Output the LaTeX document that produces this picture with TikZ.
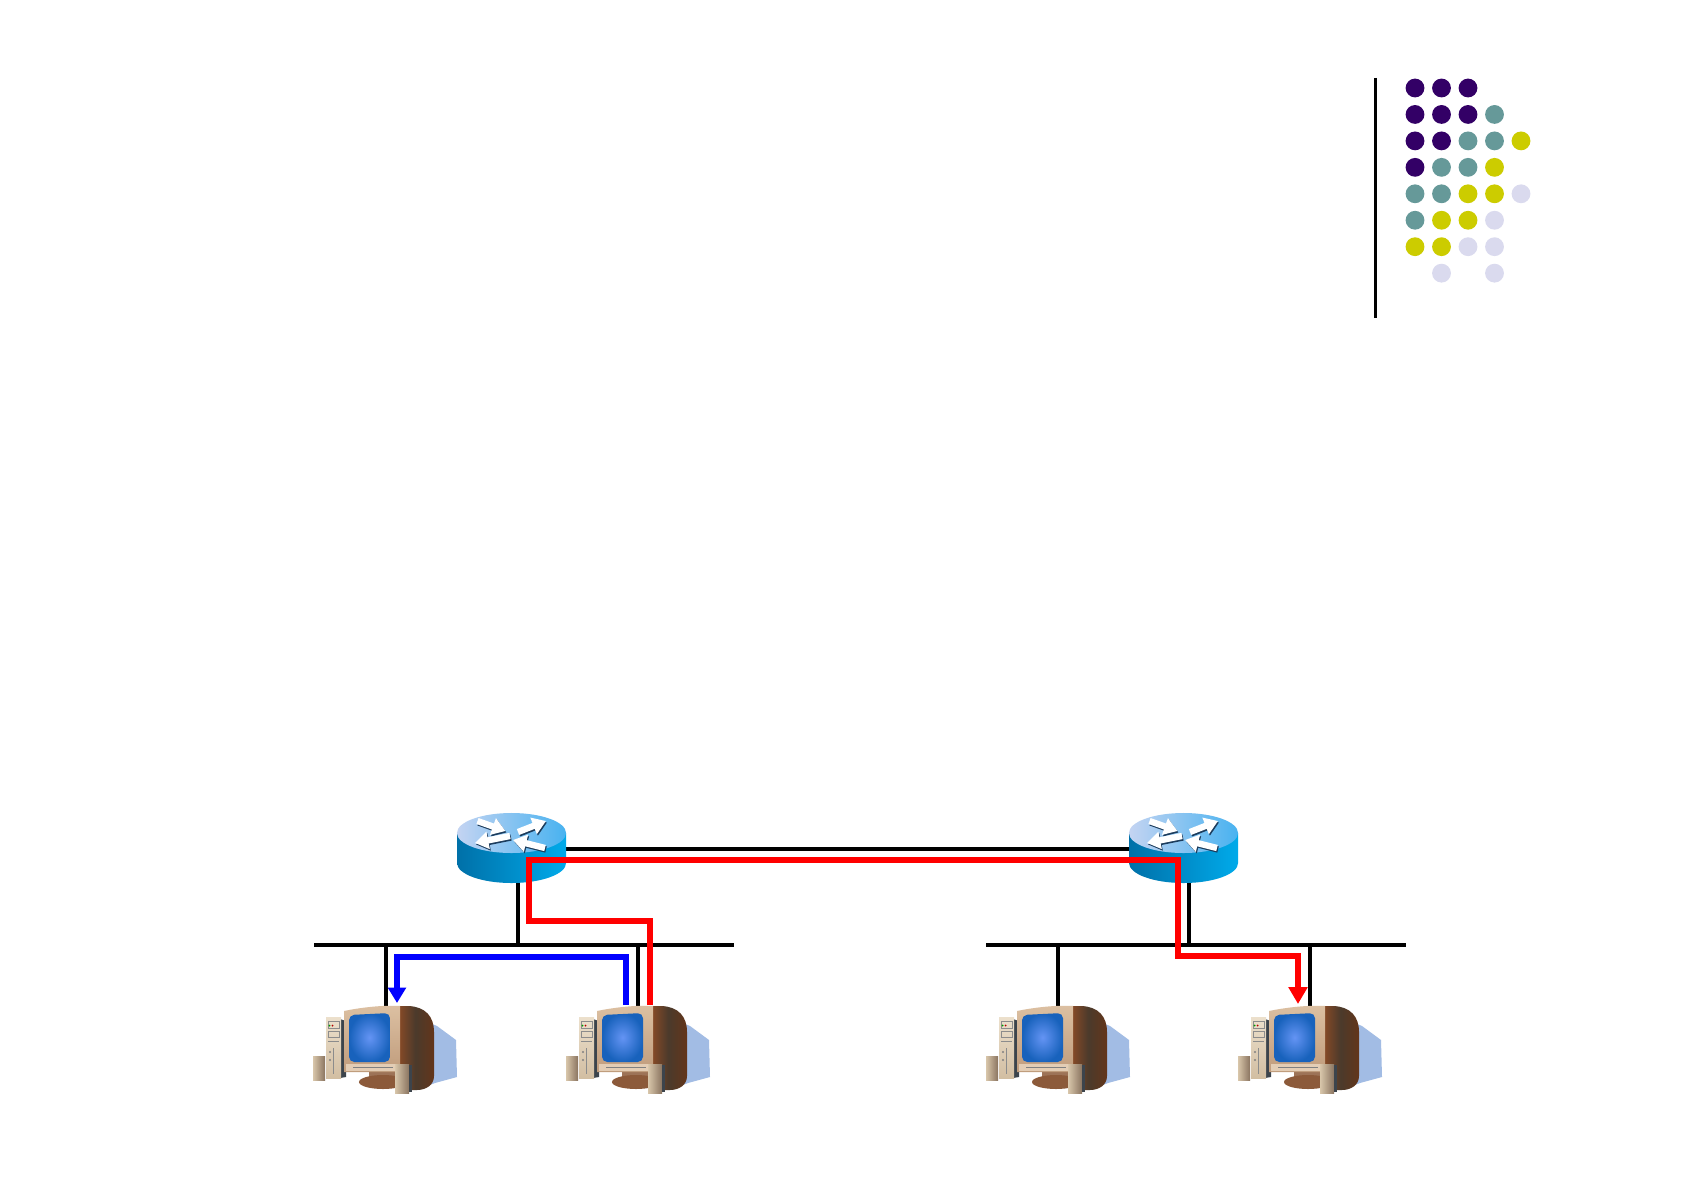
\documentclass[tikz,border=0pt]{standalone}
\usetikzlibrary{arrows.meta}
\definecolor{dpurple}{HTML}{330066}
\definecolor{dteal}{HTML}{669999}
\definecolor{dyellow}{HTML}{CCCC00}
\definecolor{dlav}{HTML}{DADAEE}
\definecolor{rside1}{HTML}{0070A8}
\definecolor{rside2}{HTML}{00AAEA}
\definecolor{rtop1}{HTML}{C4D4F2}
\definecolor{rtop2}{HTML}{48B2F0}
\definecolor{rshad}{HTML}{1C3C5C}
\definecolor{pcshadow}{HTML}{A2BCE4}
\definecolor{pcdark}{HTML}{4B3A2B}
\definecolor{pcbrown}{HTML}{8E4C26}
\definecolor{pcstand}{HTML}{8C5A3A}
\definecolor{pcgrey}{HTML}{3C444C}
\definecolor{beige1}{HTML}{ECE0CC}
\definecolor{beige2}{HTML}{D2BEA2}
\definecolor{frame1}{HTML}{DCC0A2}
\definecolor{frame2}{HTML}{C09C7C}
\definecolor{scr1}{HTML}{6494F4}
\definecolor{scr2}{HTML}{1862BC}
\definecolor{spk1}{HTML}{D8C6AA}
\definecolor{spk2}{HTML}{8A7460}
\tikzset{
  wire/.style={line width=1.15pt, black},
  thinwire/.style={line width=1.05pt, black},
  redpath/.style={line width=1.5pt, red, line join=miter},
  bluepath/.style={line width=1.5pt, blue, line join=miter},
  rarr/.style={line width=1.8pt, -{Triangle[width=4.8pt,length=3.8pt]}},
  router/.pic={
    \path[left color=rside1, right color=rside2]
      (-54.5,-15) -- (-54.5,15) arc[start angle=180,end angle=360,x radius=0.545cm,y radius=0.2cm]
      -- (54.5,-15) -- cycle;
    \path[left color=rtop1, right color=rtop2] (0,-15) ellipse[x radius=0.545cm, y radius=0.2cm];
    \draw[rarr, rshad] (-33,-25.5) -- (-5,-15.5);
    \draw[rarr, rshad] (7.5,-14.5) -- (35.5,-25.5);
    \draw[rarr, rshad] (-0.5,-10.5) -- (-35.5,-3.5);
    \draw[rarr, rshad] (34.5,1.5) -- (2.5,-6.5);
    \draw[rarr, white] (-34,-27) -- (-6,-17);
    \draw[rarr, white] (6.5,-16) -- (34.5,-27);
    \draw[rarr, white] (-1.5,-12) -- (-36.5,-5);
    \draw[rarr, white] (33.5,0) -- (1.5,-8);
  },
  computer/.pic={
    \fill[pcshadow] (102,17) -- (124,26) -- (143,40) -- (144,77) -- (122,83) -- (104,90) -- cycle;
    \path[left color=pcbrown, right color=pcbrown!70!black, middle color=pcdark]
      (84,6) -- (96,6) .. controls (112,7) and (121,16) .. (121,32) -- (121,76)
      .. controls (121,85) and (113,90) .. (104,90) -- (84,90) -- cycle;
    \fill[pcstand!85!white] (56,68) rectangle (86,80);
    \fill[pcstand] (70,82) ellipse[x radius=0.24cm, y radius=0.07cm];
    \fill[pcgrey] (27,19) -- (33,21) -- (33,77) -- (27,78) -- cycle;
    \path[top color=beige1, bottom color=beige2] (13,17) rectangle (28,78);
    \draw[black!45, line width=0.2pt] (15,21) rectangle (26,28) (15,31) rectangle (26,37) (15,41) -- (26,41) (20,48) -- (20,74);
    \fill[green!60!black] (16.5,25.5) circle[radius=0.01cm];
    \fill[red!70!black] (19.5,25.5) circle[radius=0.01cm];
    \fill[black!50] (17,52) circle[radius=0.012cm] (17,60) circle[radius=0.012cm];
    \path[left color=spk1, right color=spk2] (0,56) rectangle (12,80);
    \path[top color=frame1, bottom color=frame2]
      (31,11) .. controls (50,7) and (72,5) .. (87,6) -- (87,72) -- (31,72) -- cycle;
    \fill[frame1!80!white] (33,64) rectangle (85,71);
    \draw[black!50, line width=0.3pt] (40,67.5) -- (80,67.5);
    \shade[inner color=scr1, outer color=scr2, rounded corners=1.5pt]
      (36,15) -- (77,13) -- (77,62) -- (36,62) -- cycle;
    \path[left color=spk1, right color=spk2] (82,64) rectangle (96,93);
    \fill[pcgrey] (96,65) rectangle (99,92);
  }
}
\begin{document}
\begin{tikzpicture}[x=0.01cm,y=-0.01cm]
\useasboundingbox[fill=white] (0,0) rectangle (1685,1191);

% ---- decorative dot grid
\draw[line width=0.6pt] (1375.5,78) -- (1375.5,318);
\foreach \c/\r/\col in {0/0/dpurple,1/0/dpurple,2/0/dpurple,
  0/1/dpurple,1/1/dpurple,2/1/dpurple,3/1/dteal,
  0/2/dpurple,1/2/dpurple,2/2/dteal,3/2/dteal,4/2/dyellow,
  0/3/dpurple,1/3/dteal,2/3/dteal,3/3/dyellow,
  0/4/dteal,1/4/dteal,2/4/dyellow,3/4/dyellow,4/4/dlav,
  0/5/dteal,1/5/dyellow,2/5/dyellow,3/5/dlav,
  0/6/dyellow,1/6/dyellow,2/6/dlav,3/6/dlav,
  1/7/dlav,3/7/dlav}
  \fill[\col] (1415+26.5*\c, 88+26.45*\r) circle[radius=0.094cm];

% ---- named positions
\coordinate (R1) at (511.5,848);
\coordinate (R2) at (1183.5,848);
\coordinate (PC1) at (313,1000);
\coordinate (PC2) at (566,1000);
\coordinate (PC3) at (986,1000);
\coordinate (PC4) at (1238,1000);

\coordinate (R1e) at (560,849);
\coordinate (R2w) at (1136,849);
\coordinate (R1s) at (518,875);
\coordinate (R2s) at (1189,875);
\coordinate (B1w) at (314,945);
\coordinate (B1e) at (734,945);
\coordinate (B2w) at (986,945);
\coordinate (B2e) at (1406,945);
\coordinate (B1r) at (518,945);
\coordinate (B2r) at (1189,945);
\coordinate (B1a) at (386,945);
\coordinate (B1b) at (638,945);
\coordinate (B2a) at (1058,945);
\coordinate (B2b) at (1310,945);
\coordinate (PC1t) at (386,1008);
\coordinate (PC2t) at (638,1008);
\coordinate (PC3t) at (1058,1008);
\coordinate (PC4t) at (1310,1008);

% ---- black wiring
\draw[thinwire] (R1e) -- (R2w);
\draw[thinwire] (R1s) -- (B1r);
\draw[thinwire] (R2s) -- (B2r);
\draw[wire] (B1w) -- (B1e);
\draw[wire] (B2w) -- (B2e);
\draw[thinwire] (B1a) -- (PC1t);
\draw[thinwire] (B1b) -- (PC2t);
\draw[thinwire] (B2a) -- (PC3t);
\draw[thinwire] (B2b) -- (PC4t);

% ---- devices
\pic at (R1) {router};
\pic at (R2) {router};
\pic at (PC1) {computer};
\pic at (PC2) {computer};
\pic at (PC3) {computer};
\pic at (PC4) {computer};

% ---- traffic paths
\coordinate (bS) at (626,1005);
\coordinate (bE) at (397,1003);
\coordinate (rS) at (650,1005);
\coordinate (rE) at (1298,1004);
\draw[bluepath, -{Triangle[width=5pt,length=4.4pt]}]
  (bS) -- (626,957) -- (397,957) -- (bE);
\draw[redpath, -{Triangle[width=5.2pt,length=4.8pt]}]
  (rS) -- (650,921) -- (529,921) -- (529,860) -- (1178,860) -- (1178,956) -- (1298,956) -- (rE);
\end{tikzpicture}
\end{document}
